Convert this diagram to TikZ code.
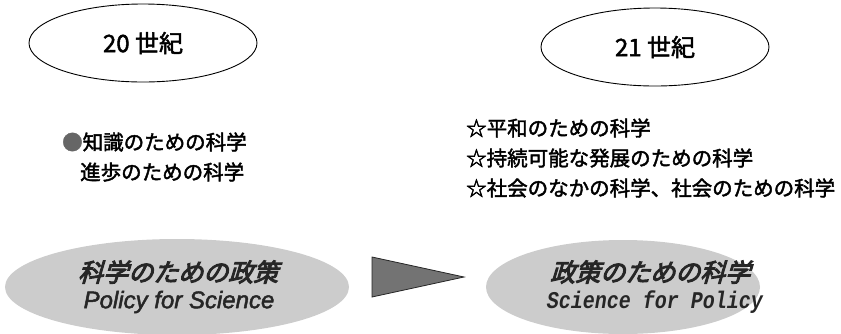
\documentclass[tikz,border=0pt]{standalone}
\usepackage{fontspec}
\usetikzlibrary{shapes.geometric}
\newfontfamily\cjk[FakeBold=2]{Noto Sans CJK JP}
\newfontfamily\cjksl[FakeSlant=0.3,FakeBold=4]{Noto Sans CJK JP}
\newfontfamily\arialf[FakeBold=2]{Liberation Sans}
\newfontfamily\monof{Liberation Mono}
\tikzset{
  century/.style={ellipse, draw=black, line width=0.9pt, inner sep=0pt,
    minimum width=228pt, minimum height=78pt, font=\cjk\fontsize{24}{24}\selectfont},
  item/.style={anchor=west, inner sep=0pt, font=\cjk\fontsize{20.5}{20.5}\selectfont},
  policy/.style={ellipse, fill=black!20, inner sep=0pt},
  jtitle/.style={inner sep=0pt, text=black!85, font=\cjksl\fontsize{25}{25}\selectfont},
  etitle/.style={inner sep=0pt, text=black!85},
  arrowtri/.style={fill=black!55, draw=black!85, line width=0.8pt}
}
\begin{document}
\begin{tikzpicture}[x=1pt,y=-1pt]
\useasboundingbox (0,0) rectangle (841,333);
\node[century] (c20) at (143,43) {20 世紀};
\node[century] (c21) at (655,47) {21 世紀};

\node[item] (k1) at (62,142) {\textcolor{black!60}{●}知識のための科学};
\node[item] (k2) at (80,172) {進歩のための科学};

\node[item] (s1) at (466,128) {☆平和のための科学};
\node[item] (s2) at (466,158) {☆持続可能な発展のための科学};
\node[item] (s3) at (466,188) {☆社会のなかの科学、社会のための科学};

\node[policy, minimum width=344pt, minimum height=96pt] (p4s) at (177,287) {};
\node[jtitle] (p4sj) at (178,272) {科学のための政策};
\node[etitle, font=\arialf\itshape\fontsize{24}{24}\selectfont] (p4se) at (179,302) {Policy for Science};

\coordinate (t1) at (372,257);
\coordinate (t2) at (372,297);
\coordinate (t3) at (464,277);
\filldraw[arrowtri] (t1) -- (t3) -- (t2) -- cycle;

\node[policy, minimum width=274pt, minimum height=94pt] (s4p) at (623,287) {};
\node[jtitle] (s4pj) at (650,272) {政策のための科学};
\node[etitle, font=\monof\bfseries\itshape\fontsize{20}{20}\selectfont] (s4pe) at (655,302) {\scalebox{1}[1.2]{Science for Policy}};
\end{tikzpicture}
\end{document}
